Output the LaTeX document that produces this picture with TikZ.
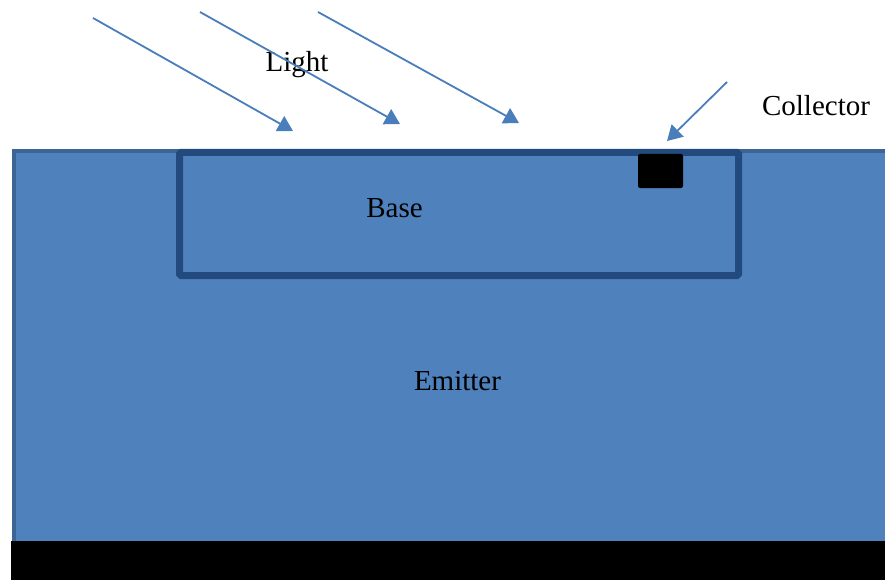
\documentclass[tikz,border=0pt]{standalone}
\usepackage{fontspec}
\setmainfont{Liberation Serif}
\usetikzlibrary{arrows.meta,shadows}
\definecolor{fillblue}{HTML}{4F81BD}
\definecolor{edgeblue}{HTML}{3C6494}
\definecolor{baseedge}{HTML}{234A7E}
\definecolor{rayblue}{HTML}{4A7EBB}
\tikzset{
  ray/.style={draw=rayblue, line width=1.8pt, -{Triangle[width=17pt,length=15pt]}},
  lbl/.style={font=\fontsize{29}{34}\selectfont, inner sep=0pt, anchor=base}
}
\begin{document}
\begin{tikzpicture}[x=1pt,y=-1pt]
\useasboundingbox (0,0) rectangle (885,580);
\clip (0,0) rectangle (885,580);
% emitter
\draw[fill=fillblue, draw=edgeblue, line width=4pt] (13.5,151.5) rectangle (900,560);
% base
\draw[fill=fillblue, draw=baseedge, line width=7pt, rounded corners=1.5pt,
      drop shadow={shadow xshift=1.5pt, shadow yshift=-2pt, opacity=0.25}] (179.5,152.5) rectangle (738.5,275.5);
% collector contact
\fill[black, rounded corners=2pt] (638,154) rectangle (683,188);
% bottom contact
\fill[black] (11,541) rectangle (885,580);
% labels
\node[lbl] (light) at (297,72) {Light};
\node[lbl] (coll) at (816,116) {Collector};
\node[lbl] (base) at (394.5,217) {Base};
\node[lbl] (emit) at (457.5,390) {Emitter};
% rays
\coordinate (r1s) at (93,18);  \coordinate (r1e) at (293,131);
\coordinate (r2s) at (200,12); \coordinate (r2e) at (400,124);
\coordinate (r3s) at (318,12); \coordinate (r3e) at (519,123);
\coordinate (r4s) at (727,82); \coordinate (r4e) at (667,141);
\draw[ray] (r1s) -- (r1e);
\draw[ray] (r2s) -- (r2e);
\draw[ray] (r3s) -- (r3e);
\draw[ray] (r4s) -- (r4e);
\end{tikzpicture}
\end{document}
